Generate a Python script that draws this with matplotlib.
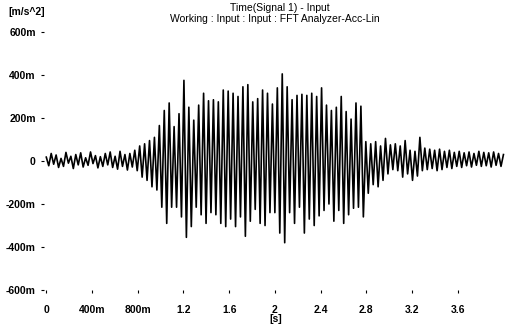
import numpy as np
import matplotlib
matplotlib.use("Agg")
import matplotlib.pyplot as plt

# Acceleration samples (milli m/s^2), successive extrema
seg_a = [18, -22, 35, -15, 28, -30, 12, -25, 40, -10, 22, -35, 30, -18, 38, -28,
         15, -20, 42, -12, 25, -32, 20]
seg_b = [-25, 35, -18, 42, -30, 22, -38, 45, -25, 30, -42, 35, -28, 50, -45, 70,
         -75, 80, -90, 95, -120, 110, -135]
seg_c = [165, -215, 235, -290, 270, -215, 160, -215, 220, -260, 375, -355, 250,
         -305, 190, -215, 260, -250, 315, -290, 280, -240, 285]
seg_d = [-250, 275, -290, 330, -305, 325, -270, 315, -305, 300, -260, 345, -350,
         355, -280, 275, -225, 290, -290, 330, -300, 315, -240]
seg_e = [265, -240, 340, -335, 405, -380, 345, -240, 285, -290, 305, -215, 310,
         -335, 305, -270, 315, -300, 300, -255, 340, -230, 260]
seg_f = [-200, 235, -280, 250, -230, 300, -290, 230, -250, 195, -220, 270, -215,
         255, -260, 90, -150, 80, -110, 90, -120, 70, -90]
seg_g = [105, -60, 75, -40, 80, -45, 70, -75, 95, -60, 50, -90, 45, -70, 110, -45,
         60, -40, 55, -35, 50, -45, 55]
seg_h = [-40, 45, -30, 50, -35, 40, -25, 45, -30, 38, -22, 42, -28, 35, -20, 45,
         -25, 40, -22, 38, -28, 42, -20, 35, -25, 30]
sample_interval = 0.0215  # s

x_ticks = [0, 0.4, 0.8, 1.2, 1.6, 2.0, 2.4, 2.8, 3.2, 3.6]
x_labels = ["0", "400m", "800m", "1.2", "1.6", "2", "2.4", "2.8", "3.2", "3.6"]
y_ticks = [-600, -400, -200, 0, 200, 400, 600]
y_labels = ["-600m", "-400m", "-200m", "0", "200m", "400m", "600m"]

values = np.array(seg_a + seg_b + seg_c + seg_d + seg_e + seg_f + seg_g + seg_h, dtype=float)
t = np.arange(len(values)) * sample_interval

W, H = 507, 324
fig = plt.figure(figsize=(W / 100, H / 100), dpi=100)
ax = fig.add_axes([44 / W, (H - 290) / H, (W - 44) / W, 258 / H])
ax.plot(t, values, color="black", lw=1.2)
ax.set_xlim(-0.02, 4.03)
ax.set_ylim(-600, 600)
for s in ax.spines.values():
    s.set_visible(False)

fam = "Liberation Sans"
ax.set_xticks(x_ticks)
ax.set_xticklabels(x_labels, fontfamily=fam, fontweight="bold", fontsize=7.5)
ax.set_yticks(y_ticks)
ax.set_yticklabels(y_labels, fontfamily=fam, fontweight="bold", fontsize=7.5)
ax.tick_params(axis="x", length=2, width=0.8, pad=9, color="black")
ax.tick_params(axis="y", length=2, width=0.8, pad=4, color="black")
ax.set_xlabel("[s]", fontfamily=fam, fontweight="bold", fontsize=7.5, labelpad=-1)

fig.text(8 / W, 1 - 12 / H, "[m/s^2]", fontfamily=fam, fontweight="bold",
         fontsize=7.5, ha="left", va="center")
fig.text(280 / W, 1 - 8 / H, "Time(Signal 1) - Input", fontfamily=fam,
         fontsize=7.5, ha="center", va="center")
fig.text(275 / W, 1 - 19 / H, "Working : Input : Input : FFT Analyzer-Acc-Lin",
         fontfamily=fam, fontsize=7.5, ha="center", va="center")

fig.savefig("out.png", dpi=100, facecolor="white")
